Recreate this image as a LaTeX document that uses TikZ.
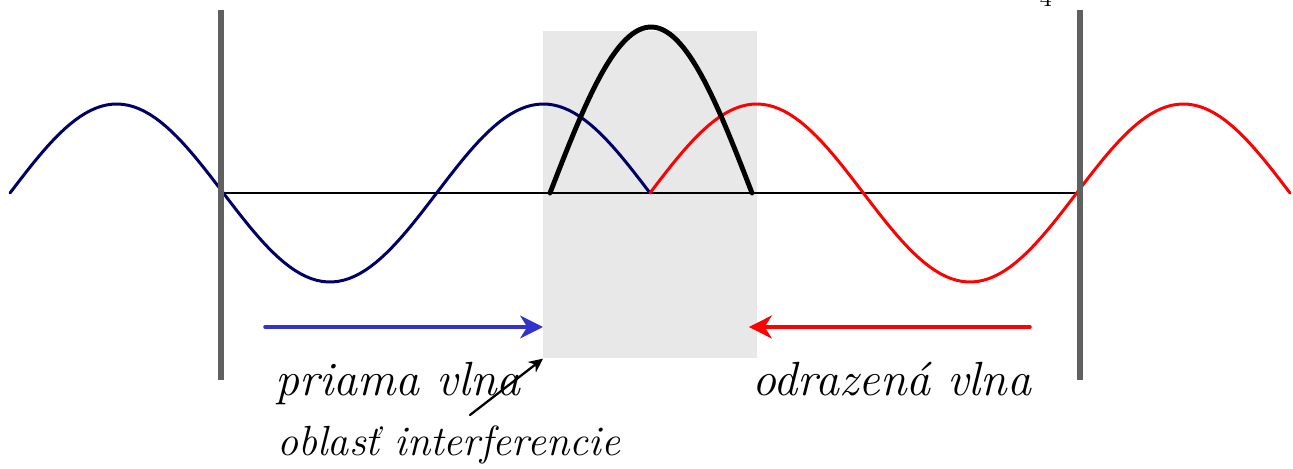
\documentclass[tikz,border=0pt]{standalone}
\usepackage{fontspec}
\usetikzlibrary{arrows.meta}
\definecolor{navy}{HTML}{000066}
\definecolor{arrowblue}{HTML}{3333CC}
\definecolor{wallgray}{HTML}{606060}
\definecolor{zonegray}{HTML}{E8E8E8}
\tikzset{
  every picture/.style={line join=round, line cap=round},
  wave/.style={line width=1.7pt, samples=120},
  wall/.style={wallgray, line width=3.4pt, line cap=butt},
  zonebox/.style={fill=zonegray, inner sep=0pt, minimum width=4.28cm, minimum height=6.54cm},
  dirarrow/.style={line width=2pt, -{Stealth[length=13pt, width=13pt, inset=4pt]}},
  bigtext/.style={font=\fontsize{27.3}{29}\selectfont\itshape, inner sep=0pt},
}

\begin{document}
\begin{tikzpicture}[x=0.02cm, y=-0.02cm]
    \useasboundingbox (0,0) rectangle (1293,469);

    % Interference region
    \node[zonebox, anchor=north west] (zone) at (543,31) {};

    % Axis
    \draw[line width=1.1pt] (221,193) -- (1080,193);

    % Direct and reflected waves
    \draw[wave, navy] plot[domain=10:650] (\x, {193-89*sin((\x-10)/213.33*180)});
    \draw[wave, red] plot[domain=650:1290] (\x, {193-89*sin((\x-650)/213.33*180)});

    % Sum of both waves
    \draw[line width=2.8pt, samples=60] plot[domain=550:752] (\x, {193-166*sin((\x-550)/202*180)});

    % Walls
    \foreach \x in {221, 1080} {
        \draw[wall] (\x,10) -- (\x,380);
    }

    % Page number
    \node[anchor=base, font=\fontsize{14}{16}\selectfont] (pagenum) at (1046,7) {4};

    % Arrows and labels
    \coordinate (blueStart) at (265,327);
    \coordinate (redStart) at (1030,327);
    \draw[dirarrow, arrowblue] (blueStart) -- (zone.west |- blueStart);
    \draw[dirarrow, red] (redStart) -- ([xshift=-5]zone.east |- redStart);

    \node[bigtext, anchor=base west] (direct) at (275,395) {priama vlna};
    \node[bigtext, anchor=base west] (reflected) at (752,395) {odrazená vlna};
    \node[font=\fontsize{24}{26}\selectfont\itshape, inner sep=0pt, anchor=base west] (region) at (277,455) {oblasť interferencie};

    \coordinate (pointer) at (470,415);
    \draw[line width=1.3pt, -{Stealth[length=8pt, width=7.5pt, inset=2.5pt]}] (pointer) -- (zone.south west);
\end{tikzpicture}
\end{document}
